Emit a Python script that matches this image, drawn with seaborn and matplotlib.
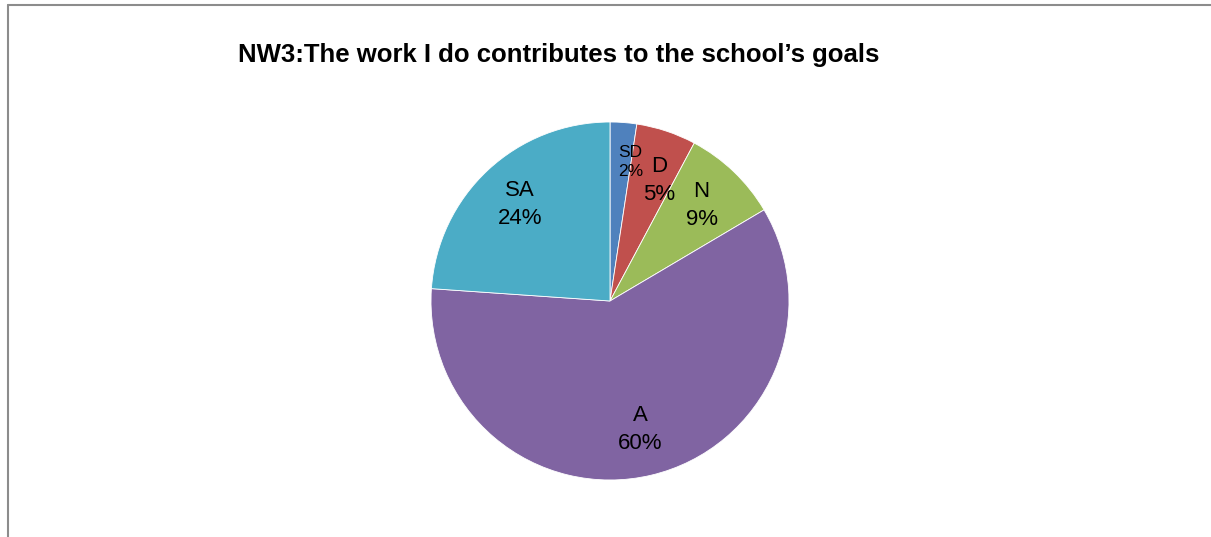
import matplotlib
matplotlib.use("Agg")
import matplotlib.pyplot as plt
from matplotlib import font_manager
from matplotlib.lines import Line2D
import seaborn as sns

categories = ["SD", "D", "N", "A", "SA"]
shares = [2.4, 5.4, 8.7, 59.6, 23.9]
colors = ["#4F81BD", "#C0504D", "#9BBB59", "#8064A2", "#4BACC6"]
title = "NW3:The work I do contributes to the school\u2019s goals"

sns.set_theme(style="white")
names = {f.name for f in font_manager.fontManager.ttflist}
narrow = "Liberation Sans Narrow" if "Liberation Sans Narrow" in names else "Liberation Sans"
plt.rcParams["font.family"] = [narrow, "DejaVu Sans"]

W, H = 1211, 537
fig = plt.figure(figsize=(W / 100, H / 100), dpi=100)
fig.patch.set_facecolor("white")

# chart frame (only top and left edges are visible in the crop)
fig.add_artist(Line2D([8 / W, 8 / W], [0, 1 - 5 / H], color="#8c8c8c", lw=1.5))
fig.add_artist(Line2D([8 / W, 1], [1 - 5 / H, 1 - 5 / H], color="#8c8c8c", lw=1.5))

cx, cy, r = 610, 301, 179
ax = fig.add_axes([(cx - r) / W, (H - cy - r) / H, 2 * r / W, 2 * r / H])
labels = [f"{c}\n{round(v)}%" for c, v in zip(categories, shares)]
wedges, texts = ax.pie(
    shares, labels=labels, colors=colors, startangle=90, counterclock=False,
    labeldistance=0.74, wedgeprops=dict(edgecolor="white", linewidth=0.6),
    textprops=dict(color="black"),
)
for t, c in zip(texts, categories):
    t.set_ha("center")
    t.set_va("center")
    t.set_fontsize(12.5 if c == "SD" else 16)
    t.set_linespacing(1.45 if c != "SD" else 1.35)
    x, y = t.get_position()
    # small nudges so the two thin slices' labels sit side by side
    if c == "SD":
        t.set_position((x + 0.06, y + 0.04))
    elif c == "D":
        t.set_position((x + 0.04, y - 0.03))
ax.set_xlim(-1, 1)
ax.set_ylim(-1, 1)
ax.set_aspect("equal")
ax.axis("off")

fig.text(559 / W, 1 - 55 / H, title, ha="center", va="center",
         fontsize=18.5, fontweight="bold", color="black")

fig.savefig("out.png", dpi=100, facecolor="white")
